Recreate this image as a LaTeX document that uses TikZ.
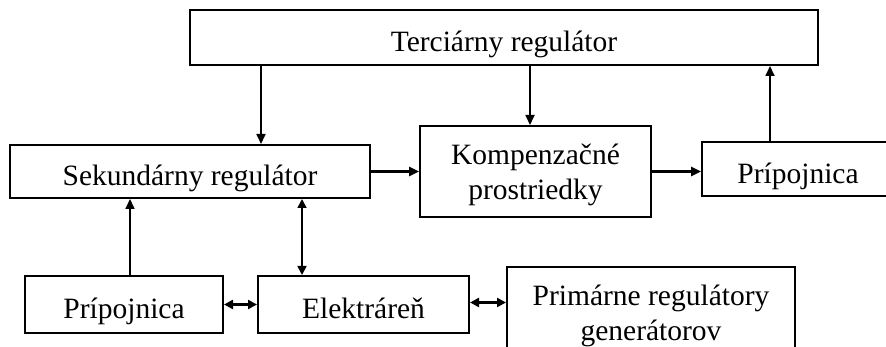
\documentclass[tikz,border=0pt]{standalone}
\usepackage{fontspec}
\setmainfont{Liberation Serif}
\usetikzlibrary{arrows.meta,calc}

\tikzset{
    block/.style={draw=black,line width=2pt,rectangle,inner sep=0pt,align=center,
        text depth=0pt,font=\fontsize{29.5}{35}\selectfont},
    oneline/.style={block,text height=29pt},
    flow/.style={line width=1.7pt,-{Triangle[length=10pt,width=9pt]}},
    flowboth/.style={line width=2.4pt,{Triangle[length=9pt,width=9pt]}-{Triangle[length=9pt,width=9pt]}}
}

\begin{document}
\begin{tikzpicture}[x=1pt,y=-1pt]

\useasboundingbox (0,0) rectangle (886,347);

% Draw the blocks
\node[oneline,minimum width=628pt,minimum height=55pt] (terc) at (504,37.5) {Terciárny regulátor};
\node[oneline,minimum width=360pt,minimum height=53pt] (sek) at (190,171.5) {Sekundárny regulátor};
\node[block,minimum width=231pt,minimum height=91pt] (komp) at (535.5,171.5) {Kompenzačné\\prostriedky};
\node[oneline,minimum width=192pt,minimum height=54pt] (pripR) at (798,169) {Prípojnica};
\node[oneline,minimum width=198pt,minimum height=57pt] (pripL) at (124,304.5) {Prípojnica};
\node[oneline,minimum width=211pt,minimum height=57pt] (elek) at (363.5,304.5) {Elektráreň};
\node[block,minimum width=288pt,minimum height=92pt] (prim) at (651,313) {Primárne regulátory\\generátorov};

% Points where the vertical arrows meet the blocks
\coordinate (sekIn) at ([xshift=252pt]sek.north west);
\coordinate (kompIn) at ([xshift=-5.5pt]komp.north);
\coordinate (pripOut) at ([xshift=69pt]pripR.north west);
\coordinate (pripUp) at ([xshift=6pt]pripL.north);
\coordinate (elekUp) at ([xshift=45pt]elek.north west);

% Draw the arrows from the top
\draw[flow] (sekIn |- terc.south) -- (sekIn);
\draw[flow] (kompIn |- terc.south) -- (kompIn);
\draw[flow] (pripOut) -- (pripOut |- terc.south);

% Draw the arrows in the middle row
\draw[flow,line width=2.4pt] (sek.east) -- (komp.west);
\draw[flow,line width=2.4pt] (komp.east) -- (komp.east -| pripR.west);

% Draw the arrows from the bottom row
\draw[flow] (pripUp) -- (pripUp |- sek.south);
\draw[flowboth,line width=1.7pt] (elekUp) -- (elekUp |- sek.south);
\draw[flowboth] (pripL.east) -- (elek.west);
\draw[flowboth] ([yshift=2pt]elek.east) -- ([yshift=2pt]elek.east -| prim.west);

\end{tikzpicture}
\end{document}
